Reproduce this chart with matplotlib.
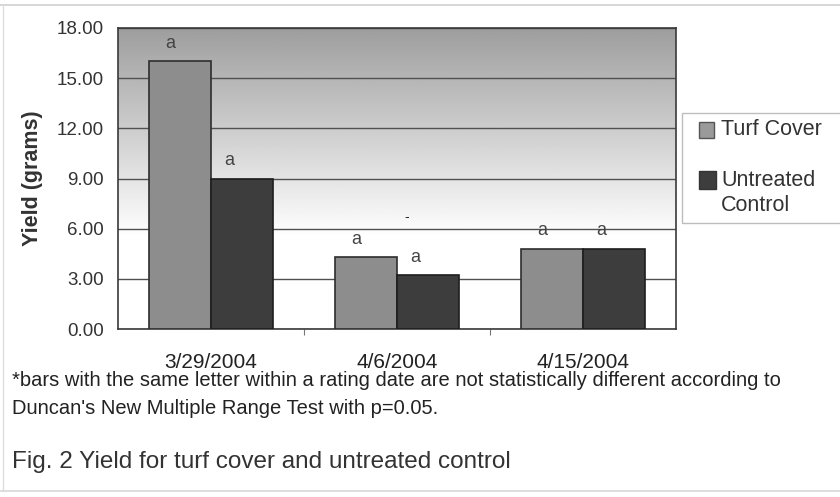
import numpy as np
import matplotlib.pyplot as plt
import matplotlib.patches as mpatches
from matplotlib.lines import Line2D

# data
dates = ['3/29/2004', '4/6/2004', '4/15/2004']
turf_cover = [16.0, 4.3, 4.8]
untreated = [9.0, 3.2, 4.8]
turf_letters = ['a', 'a', 'a']
untreated_letters = ['a', 'a', 'a']
yticks = [0, 3, 6, 9, 12, 15, 18]
series_names = ['Turf Cover', 'Untreated\nControl']

plt.rcParams['font.family'] = ['Liberation Sans', 'DejaVu Sans']

W, H = 840, 497
fig = plt.figure(figsize=(W / 100, H / 100), dpi=100)
fig.patch.set_facecolor('white')


def fx(px):
    return px / W


def fy(py):
    return 1 - py / H


ax = fig.add_axes([fx(118), fy(329), fx(676) - fx(118), fy(28) - fy(329)])

# gradient background, grey at top fading to white below ~6
grad = np.linspace(0, 18, 200)
shade = np.clip(1.0 - (grad - 5.5) / 12.5 * 0.38, 0.62, 1.0)
bg = np.repeat(shade[:, None], 2, axis=1)
ax.imshow(bg, cmap='gray', vmin=0, vmax=1, origin='lower', aspect='auto',
          extent=[-0.5, 2.5, 0, 18], zorder=0)

x = np.arange(len(dates))
bw = 1 / 3
ax.bar(x - bw / 2, turf_cover, width=bw, color='#8d8d8d', edgecolor='#2e2e2e',
       linewidth=1.2, zorder=3)
ax.bar(x + bw / 2, untreated, width=bw, color='#3d3d3d', edgecolor='#1e1e1e',
       linewidth=1.2, zorder=3)

for i in range(len(dates)):
    ax.annotate(turf_letters[i], (x[i] - bw / 2, turf_cover[i]), xytext=(-7, 13),
                textcoords='offset points', ha='center', va='center',
                fontsize=13, color='#444444', zorder=4)
    ax.annotate(untreated_letters[i], (x[i] + bw / 2, untreated[i]), xytext=(-9, 13),
                textcoords='offset points', ha='center', va='center',
                fontsize=13, color='#444444', zorder=4)

# stray mark from the scan
ax.text(1.05, 6.7, '-', ha='center', va='center', fontsize=10, color='#222222')

ax.set_xlim(-0.5, 2.5)
ax.set_ylim(0, 18)
ax.set_yticks(yticks)
ax.set_yticklabels([f'{v:.2f}' for v in yticks], fontsize=13.5, color='#333333')
ax.yaxis.grid(True, color='#505050', linewidth=1.0)
ax.set_axisbelow(True)
ax.tick_params(axis='y', length=0, pad=10)

ax.set_xticks([0.5, 1.5])
ax.set_xticklabels([])
ax.tick_params(axis='x', length=4, color='#777777', direction='out')
ax.set_xticks(x, minor=True)
ax.set_xticklabels(dates, minor=True, fontsize=15, color='#222222')
ax.tick_params(axis='x', which='minor', length=0, pad=17)

for s in ax.spines.values():
    s.set_color('#3a3a3a')
    s.set_linewidth(1.2)

ax.set_ylabel('Yield (grams)', fontsize=15.5, fontweight='bold', color='#333333',
              labelpad=10)

# legend box (runs off the right edge like the scan)
fig.patches.append(mpatches.Rectangle((fx(682), fy(223)), fx(170), fy(113) - fy(223),
                                      transform=fig.transFigure, facecolor='white',
                                      edgecolor='#bdbdbd', linewidth=1))
fig.patches.append(mpatches.Rectangle((fx(699), fy(138)), fx(15), fy(122) - fy(138),
                                      transform=fig.transFigure, facecolor='#9a9a9a',
                                      edgecolor='#555555', linewidth=1))
fig.patches.append(mpatches.Rectangle((fx(699), fy(189)), fx(17), fy(171) - fy(189),
                                      transform=fig.transFigure, facecolor='#3d3d3d',
                                      edgecolor='#333333', linewidth=1))
fig.text(fx(721), fy(130), series_names[0], fontsize=15.5, color='#333333',
         va='center', ha='left')
fig.text(fx(721), fy(193), series_names[1], fontsize=15.5, color='#333333',
         va='center', ha='left', linespacing=1.25)

# footnote and caption
fig.text(fx(12), fy(381), '*bars with the same letter within a rating date are not '
         'statistically different according to', fontsize=14.5, color='#222222',
         va='center', ha='left')
fig.text(fx(12), fy(409), "Duncan's New Multiple Range Test with p=0.05.",
         fontsize=14.5, color='#222222', va='center', ha='left')
fig.text(fx(12), fy(462), 'Fig. 2 Yield for turf cover and untreated control',
         fontsize=17.5, color='#333333', va='center', ha='left')

# faint page frame from the scan
fig.lines.extend([
    Line2D([fx(0), fx(840)], [fy(5), fy(5)], transform=fig.transFigure,
           color='#d0d0d0', linewidth=1.2),
    Line2D([fx(0), fx(840)], [fy(491), fy(491)], transform=fig.transFigure,
           color='#d8d8d8', linewidth=1.2),
    Line2D([fx(3), fx(3)], [fy(5), fy(491)], transform=fig.transFigure,
           color='#dddddd', linewidth=1.0),
])

fig.savefig('out.png', dpi=100)
